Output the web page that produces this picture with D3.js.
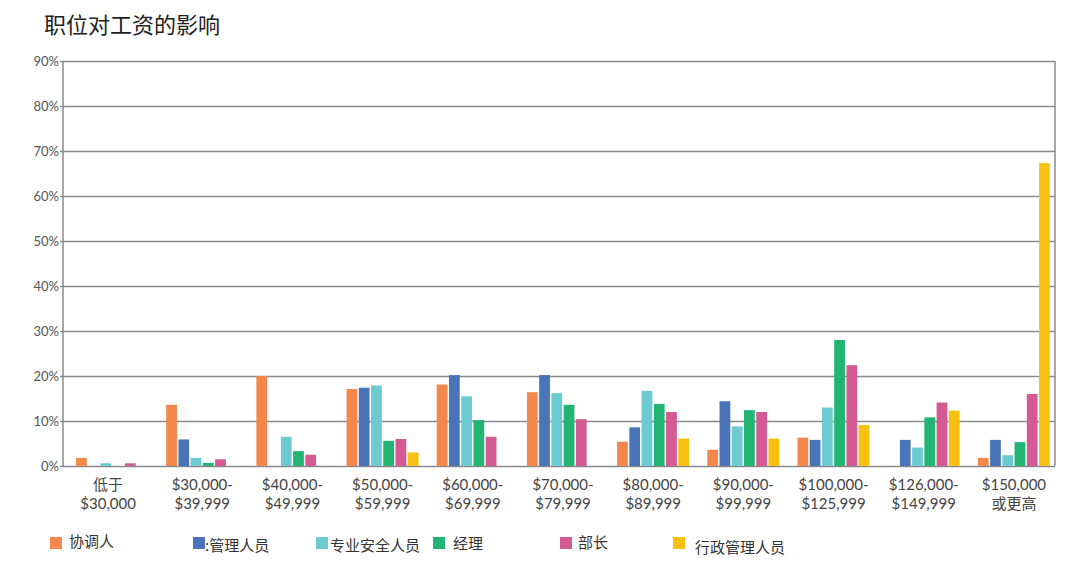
<!DOCTYPE html>
<html>
<head>
<meta charset="utf-8">
<script src="https://cdn.jsdelivr.net/npm/d3@7/dist/d3.min.js"></script>
<style>
  body { margin: 0; background: #fff; }
  #root { width: 1080px; height: 570px; }
  text { font-family: Lato, "Noto Sans CJK SC", sans-serif; }
</style>
</head>
<body>
<div id="root"></div>
<script>
// categories (two-line tick labels)
var categories = ["<30k", "30k", "40k", "50k", "60k", "70k", "80k", "90k", "100k", "126k", "150k"];
var categoryLabels = [
  ["低于", "$30,000"], ["$30,000-", "$39,999"], ["$40,000-", "$49,999"],
  ["$50,000-", "$59,999"], ["$60,000-", "$69,999"], ["$70,000-", "$79,999"],
  ["$80,000-", "$89,999"], ["$90,000-", "$99,999"], ["$100,000-", "$125,999"],
  ["$126,000-", "$149,999"], ["$150,000", "或更高"]
];
var seriesNames = ["协调人", ":管理人员", "专业安全人员", "经理", "部长", "行政管理人员"];
var seriesColors = ["#f4874b", "#4a74b8", "#6ccbd0", "#22b473", "#d35a92", "#f8c112"];

// values in percent, one array per series
var coordinator  = [1.8, 13.6, 20.0, 17.1, 18.1, 16.4, 5.4, 3.6, 6.3, 0, 1.8];
var manager      = [0, 5.9, 0, 17.4, 20.2, 20.2, 8.6, 14.4, 5.8, 5.8, 5.8];
var specialist   = [0.6, 1.8, 6.5, 17.9, 15.5, 16.2, 16.7, 8.8, 13.0, 4.1, 2.4];
var director     = [0, 0.7, 3.3, 5.6, 10.2, 13.6, 13.8, 12.4, 28.0, 10.8, 5.3];
var head         = [0.6, 1.5, 2.5, 6.0, 6.5, 10.4, 12.0, 12.0, 22.4, 14.1, 16.0];
var executive    = [0, 0, 0, 3.0, 0, 0, 6.1, 6.1, 9.1, 12.3, 67.3];
var seriesValues = [coordinator, manager, specialist, director, head, executive];

var yTicks = [0, 10, 20, 30, 40, 50, 60, 70, 80, 90];

var width = 1080, height = 570;
var plotLeft = 63, plotRight = 1055, plotTop = 61, plotBottom = 466;

var svg = d3.select("#root").append("svg")
    .attr("width", width)
    .attr("height", height);

// title
svg.append("text")
    .attr("x", 44)
    .attr("y", 33)
    .attr("font-size", "22px")
    .attr("fill", "#222")
    .style("font-family", "'Noto Sans CJK SC', sans-serif")
    .text("职位对工资的影响");

var x0 = d3.scaleBand().domain(categories).range([plotLeft, plotRight]).padding(0);
var x1 = d3.scaleBand().domain(d3.range(seriesNames.length))
    .range([13, 85]).paddingInner(0.12);
var y = d3.scaleLinear().domain([0, 90]).range([plotBottom, plotTop]);

// grid + y axis
var yAxis = svg.append("g")
    .attr("transform", "translate(" + plotLeft + ",0)")
    .call(d3.axisLeft(y).tickValues(yTicks)
        .tickFormat(function (d) { return d + "%"; })
        .tickSize(-(plotRight - plotLeft)).tickPadding(4));
yAxis.select(".domain").remove();
yAxis.selectAll(".tick line")
    .attr("stroke", "#8a8a8a")
    .attr("stroke-width", 1.5)
    .attr("x1", -3);
yAxis.selectAll(".tick text")
    .attr("font-size", "13px")
    .attr("fill", "#555")
    .style("font-family", "Lato, sans-serif");

// frame sides
svg.append("line").attr("x1", plotLeft).attr("x2", plotLeft)
    .attr("y1", plotTop).attr("y2", plotBottom)
    .attr("stroke", "#8a8a8a").attr("stroke-width", 1.5);
svg.append("line").attr("x1", plotRight).attr("x2", plotRight)
    .attr("y1", plotTop).attr("y2", plotBottom)
    .attr("stroke", "#8a8a8a").attr("stroke-width", 1.5);

// bars
var groups = svg.selectAll(".group")
    .data(categories)
    .enter().append("g")
    .classed("group", true)
    .attr("transform", function (d) { return "translate(" + x0(d) + ",0)"; });

groups.selectAll("rect")
    .data(function (d, i) {
        return seriesValues.map(function (vals, s) { return { s: s, v: vals[i] }; });
    })
    .enter().append("rect")
    .filter(function (d) { return d.v > 0; })
    .attr("x", function (d) { return x1(d.s); })
    .attr("width", x1.bandwidth())
    .attr("y", function (d) { return y(d.v); })
    .attr("height", function (d) { return y(0) - y(d.v); })
    .attr("fill", function (d) { return seriesColors[d.s]; });

// x labels
var xl = svg.append("g");
categoryLabels.forEach(function (lines, i) {
    var cx = x0(categories[i]) + x0.bandwidth() / 2;
    lines.forEach(function (t, j) {
        xl.append("text")
            .attr("x", cx + (i === 0 ? 0 : 4))
            .attr("y", 490 + j * 19)
            .attr("text-anchor", "middle")
            .attr("font-size", "15px")
            .attr("fill", "#444")
            .text(t);
    });
});

// legend
var legendX = [50, 193, 316, 433, 560, 673];
var legendTextX = [69, 205, 330, 453, 578, 695];
var legendDy = [0, 4, 4, 2, 1, 6];
var legend = svg.append("g");
seriesNames.forEach(function (n, i) {
    legend.append("rect")
        .attr("x", legendX[i]).attr("y", 537)
        .attr("width", 12).attr("height", 12)
        .attr("fill", seriesColors[i]);
    legend.append("text")
        .attr("x", legendTextX[i])
        .attr("y", 547 + legendDy[i])
        .attr("font-size", "15px")
        .attr("fill", "#333")
        .style("font-family", "'Noto Sans CJK SC', sans-serif")
        .text(n);
});
</script>
</body>
</html>
